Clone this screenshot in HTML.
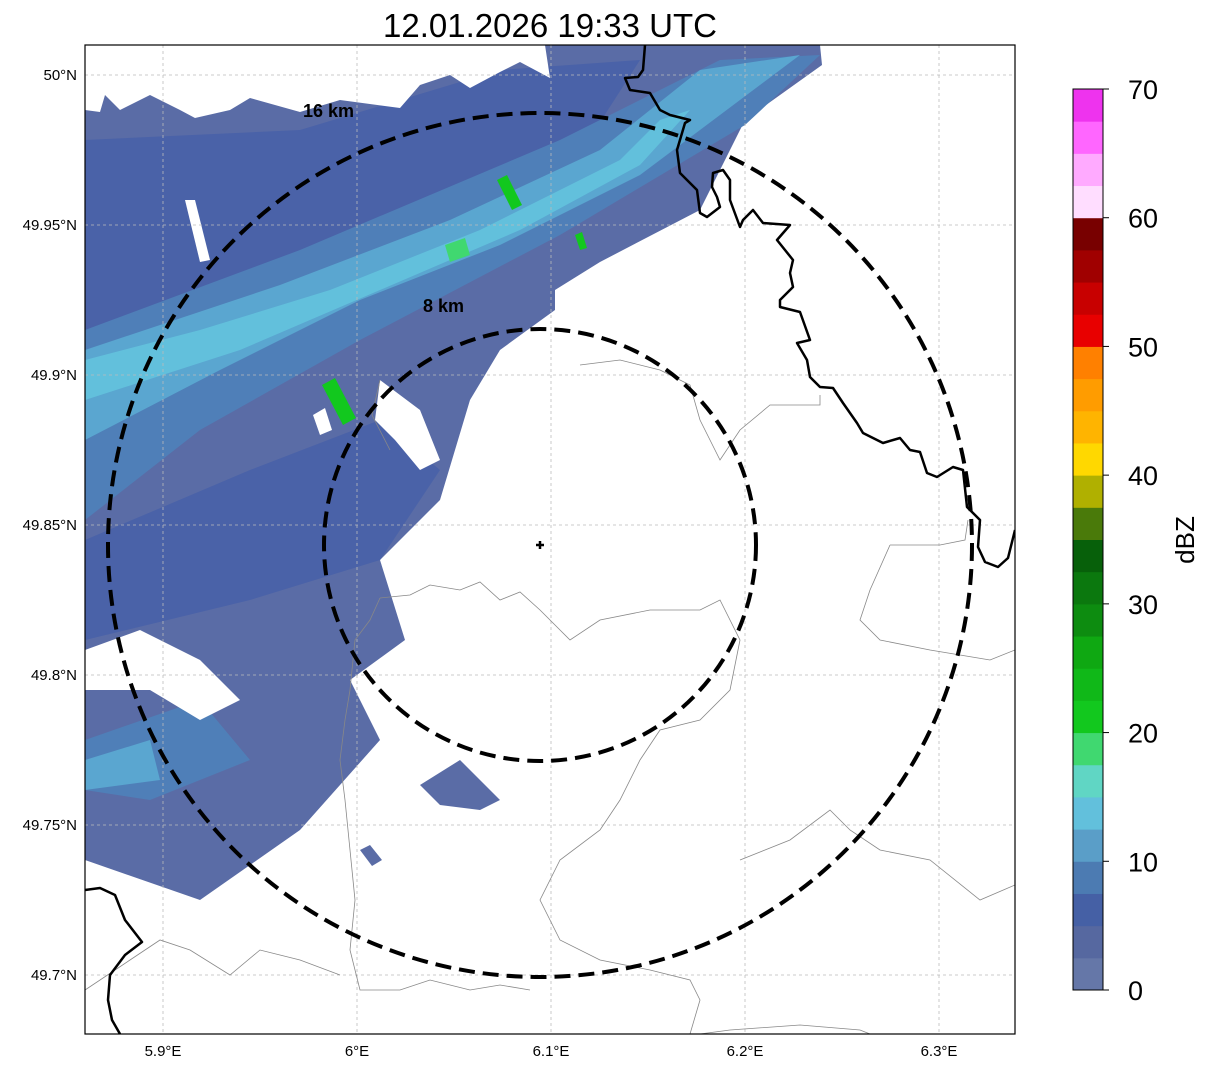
<!DOCTYPE html>
<html><head><meta charset="utf-8"><style>
html,body{margin:0;padding:0;background:#fff;}
svg{display:block;font-family:"Liberation Sans","DejaVu Sans",sans-serif;}
</style></head><body>
<svg id="fig" width="1207" height="1069" viewBox="0 0 1207 1069">
<text x="550" y="37" font-size="33" text-anchor="middle">12.01.2026 19:33 UTC</text>
<defs><clipPath id="mapclip"><rect x="85" y="45" width="930" height="989"/></clipPath></defs>
<g clip-path="url(#mapclip)">
 <g>
  <polygon fill="#5a6ca6" points="85,45 820,45 822,65 745,120 700,210 600,262 555,290 555,310 500,350 470,400 440,500 380,560 405,640 350,680 380,740 300,830 200,900 85,860"/>
  <polygon fill="#4a62a8" points="85,140 300,130 500,70 640,60 550,200 400,280 250,340 85,400"/>
  <polygon fill="#4f7fb8" points="85,330 300,250 560,140 720,60 820,55 745,125 560,235 360,340 200,430 85,520"/>
  <polygon fill="#5aa6d0" points="85,350 280,285 450,220 600,150 700,70 800,55 760,85 640,175 500,245 360,300 220,370 85,440"/>
  <polygon fill="#62c0dc" points="85,360 200,330 330,290 480,230 560,190 620,160 660,120 690,110 640,165 520,230 380,290 240,350 85,400"/>
  <polygon fill="#4a62a8" points="85,540 250,470 380,420 440,470 380,560 250,600 85,640"/>
  <polygon fill="#4f7fb8" points="85,740 200,700 250,760 150,800 85,790"/>
  <polygon fill="#5aa6d0" points="85,760 150,740 160,780 85,790"/>
  <polygon fill="#5a6ca6" points="420,785 460,760 500,800 480,810 440,805"/>
  <polygon fill="#5a6ca6" points="360,850 370,845 382,860 372,866"/>
  <polygon fill="#12c81e" points="322,385 335,378 356,418 343,425"/>
  <polygon fill="#12c81e" points="497,180 507,175 522,205 512,210"/>
  <polygon fill="#40d870" points="445,245 465,238 470,255 450,262"/>
  <polygon fill="#12c81e" points="575,235 582,232 587,248 580,250"/>
  <polygon fill="#fff" points="85,45 85,110 100,112 105,95 120,110 150,95 180,110 195,118 230,110 250,98 300,112 340,100 400,108 420,85 450,75 470,88 500,72 520,62 550,78 545,45"/>
  <polygon fill="#fff" points="185,200 195,200 210,260 200,262"/>
  <polygon fill="#fff" points="380,380 420,410 440,460 420,470 395,440 375,420"/>
  <polygon fill="#fff" points="85,650 140,630 200,660 240,700 200,720 150,690 85,690"/>
  <polygon fill="#fff" points="313,415 325,408 332,430 320,435"/>
 </g>
 <g stroke="#bbb" stroke-width="0.8" stroke-dasharray="3,3" fill="none" id="grid"></g>
 <g stroke="#888" stroke-width="0.8" fill="none">
  <path d="M380,598 L410,595 430,585 460,590 480,582 500,600 520,592 540,610 560,630 570,640 600,620 650,610 700,610 720,600 740,640 730,690 700,720 660,730 640,760 620,800 600,830 560,860 540,900 560,940 600,960 650,970 690,980 700,1000 690,1034"/>
  <path d="M380,598 L370,620 355,640 350,690 345,720 340,760 345,800 350,850 355,900 350,950 360,990 400,990 430,980 470,990 500,985 530,990"/>
  <path d="M85,990 L130,960 160,940 190,950 230,975 260,950 300,960 340,975"/>
  <path d="M740,860 L790,840 830,810 850,830 880,850 930,860 980,900 1015,885"/>
  <path d="M700,1034 L730,1030 800,1025 860,1030 870,1034"/>
  <path d="M890,545 L870,590 860,620 880,640 930,650 990,660 1015,650"/>
  <path d="M890,545 L940,545 965,540 968,520"/>
  <path d="M580,365 L620,360 660,370 690,385 700,420 720,460 740,430 770,405 820,405 820,395"/>
  <path d="M380,380 L372,415 390,450"/>
 </g>
 <g stroke="#000" stroke-width="2.5" fill="none" stroke-linejoin="round">
  <path d="M645,45 L643,70 638,77 625,78 630,90 650,93 660,110 670,115 690,120 685,123 677,150 680,173 697,190 700,213 707,217 720,207 717,197 712,187 713,173 723,170 730,180 730,200 740,227 743,220 753,210 763,223 790,225 777,240 793,260 790,273 793,287 780,300 780,307 800,312 810,340 797,343 807,360 810,377 820,387 833,388 843,403 857,423 863,433 883,443 900,438 910,450 920,452 927,473 937,477 953,467 963,470 967,507 980,520 978,547 985,562 998,567 1008,558 1015,530"/>
  <path d="M85,890 L100,888 115,895 125,920 142,942 125,955 110,975 108,1000 112,1020 120,1034"/>
 </g>
 <g id="rings"></g>
 <text x="303" y="117" font-size="18" font-weight="bold">16 km</text>
 <text x="423" y="312" font-size="18" font-weight="bold">8 km</text>
 <g><path d="M536,545 H544 M540,541 V549" stroke="#000" stroke-width="2.5"/></g>
</g>
<rect x="85" y="45" width="930" height="989" fill="none" stroke="#000" stroke-width="1.2"/>
<g id="ticks" font-size="15"></g>
<g id="cbar"></g>
<text transform="translate(1194,540) rotate(-90)" font-size="26" text-anchor="middle">dBZ</text>
</svg>
<script>
const lonTicks=[5.9,6.0,6.1,6.2,6.3];
const lonLabels=["5.9°E","6°E","6.1°E","6.2°E","6.3°E"];
const latTicks=[50.0,49.95,49.9,49.85,49.8,49.75,49.7];
const latLabels=["50°N","49.95°N","49.9°N","49.85°N","49.8°N","49.75°N","49.7°N"];
const ringKm=[8,16];
const cbLevels=[0,2.5,5,7.5,10,12.5,15,17.5,20,22.5,25,27.5,30,32.5,35,37.5,40,42.5,45,47.5,50,52.5,55,57.5,60,62.5,65,67.5];
const cbColors=["#6577a8","#5668a0","#4560a5","#4c7bb2","#5a9ec8","#62c0dc","#60d6c4","#40d870","#12c81e","#10b818","#0fa812","#0d8c10","#0b780e","#07600a","#4a7a0a","#b0b000","#ffd800","#ffb400","#ff9c00","#ff8000","#e80000","#c80000","#a00000","#780000","#ffddff","#ffaaff","#ff66ff","#ee33ee"];
const cbTicks=[0,10,20,30,40,50,60,70];
const NS="http://www.w3.org/2000/svg";
const xLon=v=>163+(v-5.9)*1940;
const yLat=v=>75+(50-v)*3000;
const kmPx=27;
const yCb=v=>990-v*(901/70);
function mk(t,a,p){const e=document.createElementNS(NS,t);for(const k in a)e.setAttribute(k,a[k]);p.appendChild(e);return e;}
const grid=document.getElementById('grid'),ticks=document.getElementById('ticks');
lonTicks.forEach((v,i)=>{const x=xLon(v);
 const l=mk('line',{x1:x,x2:x,y1:45,y2:1034},grid);
 
 
 const t=mk('text',{x:x,y:1056,'text-anchor':'middle'},ticks);t.textContent=lonLabels[i];
 
 });
latTicks.forEach((v,i)=>{const y=yLat(v);
 const l=mk('line',{x1:85,x2:1015,y1:y,y2:y},grid);
 
 
 const t=mk('text',{x:77,y:y+5,'text-anchor':'end'},ticks);t.textContent=latLabels[i];
 
 });
const rings=document.getElementById('rings');
ringKm.forEach(k=>{const c=mk('circle',{cx:540,cy:545,r:k*kmPx,fill:'none',stroke:'#000','stroke-width':4,'stroke-dasharray':'16,8'},rings);
 
 });
const cb=document.getElementById('cbar');
cbLevels.forEach((v,i)=>{const y1=yCb(v),y2=yCb(v+2.5);
 const r=mk('rect',{x:1073,y:y2,width:30,height:y1-y2+0.5,fill:cbColors[i]},cb);
 
 });
mk('rect',{x:1073,y:89,width:30,height:901,fill:'none',stroke:'#000','stroke-width':1},cb);
cbTicks.forEach(v=>{const y=yCb(v);
 mk('line',{x1:1103,x2:1109,y1:y,y2:y,stroke:'#000'},cb);
 const t=mk('text',{x:1128,y:y+10,'font-size':27},cb);t.textContent=v;
 
 });
</script>
</body></html>
